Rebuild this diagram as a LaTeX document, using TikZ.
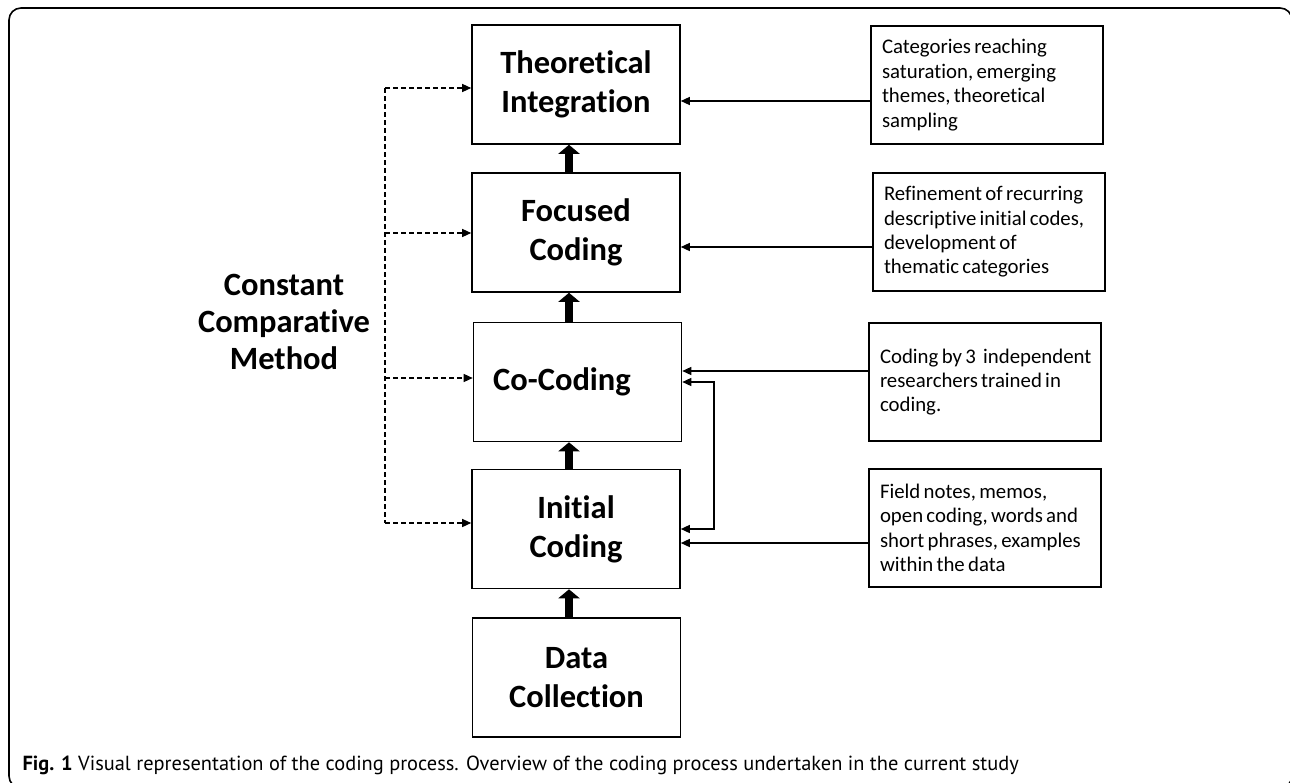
\documentclass[tikz,border=0pt]{standalone}
\usepackage{fontspec}
\setmainfont{Carlito}[Ligatures=NoCommon]
\newfontfamily\capfont{PT Sans}
\usetikzlibrary{arrows.meta,calc}
\begin{document}
\begin{tikzpicture}[x=1pt,y=-1pt,
  box/.style={draw, line width=1.6pt, minimum width=208pt, minimum height=119pt,
    align=center, inner sep=0pt, font=\fontsize{32.5}{39}\selectfont\bfseries},
  note/.style={draw, line width=1.6pt, text width=226pt, inner xsep=3pt, inner ysep=0pt,
    minimum height=118pt, align=left, font=\fontsize{20.8}{24.4}\selectfont,
    execute at begin node={\leftskip=8pt\relax\hyphenpenalty=10000\relax\spaceskip=0.16em plus 0.05em\relax}},
  bigarrow/.style={line width=8pt, -{Triangle[width=21pt,length=9pt]}},
  thinarrow/.style={line width=1.4pt, -{Triangle[width=8pt,length=9pt]}},
  dashline/.style={line width=1.3pt, dash pattern=on 5pt off 3pt},
  dasharrow/.style={dashline, -{Triangle[width=8pt,length=9pt]}},
  sidelabel/.style={align=center, font=\fontsize{32.5}{37}\selectfont\bfseries},
  caption/.style={anchor=base west, font=\capfont\fontsize{20.4}{23}\selectfont}
]
\useasboundingbox (0,0) rectangle (1290,782);
\fill[white] (0,0) rectangle (1290,782);
\draw[line width=1.6pt, rounded corners=12pt] (9,8) rectangle (1292,788);

% main column
\node[box] (theo) at (576,84.5) {Theoretical\\Integration};
\node[box] (foc) at (576,232.5) {Focused\\Coding};
\node[box] (co) at (577.5,382) {Co-Coding\hspace*{31pt}};
\node[box] (init) at (576,529) {Initial\\Coding};
\node[box] (data) at (576.5,677.5) {Data\\Collection};

% notes
\node[note] (r1) at (987,85) {Categories reaching\\saturation, emerging\\themes, theoretical\\sampling};
\node[note] (r2) at (989,232) {Refinement of recurring\\descriptive initial codes,\\development of\\thematic categories\\[10pt]};
\node[note] (r3) at (985,382) {\mbox{Coding by 3\hspace{0.35em}independent}\\researchers trained in\\coding.};
\node[note] (r4) at (985,528) {Field notes, memos,\\open coding, words and\\short phrases, examples\\within the data};

% side label
\node[sidelabel] (ccm) at (284,322) {Constant\\Comparative\\Method};

% thick arrows
\coordinate (ax) at (569,0);
\draw[bigarrow] (data.north -| ax) -- (init.south -| ax);
\draw[bigarrow] (init.north -| ax) -- (co.south -| ax);
\draw[bigarrow] (co.north -| ax) -- (foc.south -| ax);
\draw[bigarrow] (foc.north -| ax) -- (theo.south -| ax);

% note arrows
\draw[thinarrow] ([yshift=-16pt]r1.west) -- ([yshift=-16pt]r1.west -| theo.east);
\draw[thinarrow] ([yshift=-15pt]r2.west) -- ([yshift=-15pt]r2.west -| foc.east);
\draw[thinarrow] ([yshift=11pt]r3.west) -- ([yshift=11pt]r3.west -| co.east);
\draw[thinarrow] ([yshift=-15pt]r4.west) -- ([yshift=-15pt]r4.west -| init.east);

% feedback loop
\coordinate (fb) at (714,455);
\draw[line width=1.4pt, {Triangle[width=8pt,length=9pt]}-{Triangle[width=8pt,length=9pt]}]
  (co.east) -| (fb) |- (init.east);

% dashed connectors
\coordinate (dtop) at (385,88);
\coordinate (dbot) at (385,523);
\draw[dashline] (dtop) -- (dbot);
\draw[dasharrow] (dtop) -- (dtop -| theo.west);
\draw[dasharrow] (385,233) -- ([yshift=-0.5pt]foc.west);
\draw[dasharrow] (385,378) -- ([yshift=4pt]co.west);
\draw[dasharrow] (dbot) -- (dbot -| init.west);

% caption
\node[caption] (cap) at (19,770) {\textbf{Fig. 1} Visual representation of the coding process. Overview of the coding process undertaken in the current study};
\end{tikzpicture}
\end{document}
